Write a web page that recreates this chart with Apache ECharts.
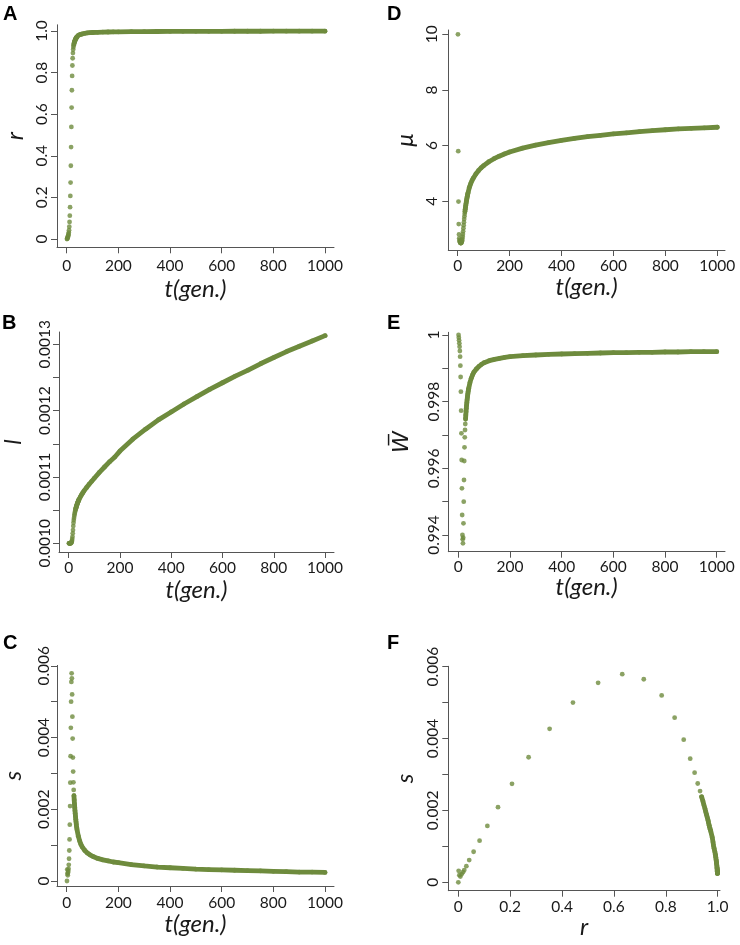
<!DOCTYPE html>
<html><head><meta charset="utf-8">
<script src="https://cdn.jsdelivr.net/npm/echarts@6/dist/echarts.min.js"></script>
<style>html,body{margin:0;padding:0;background:#fff}#c{width:740px;height:945px}</style>
</head><body><div id="c"></div>
<script>
// generations
const gen = [1,2,3,4,5,6,7,8,9,10,11,12,13,14,15,16,17,18,19,20,21,22,23,24,25,26,27,28,29,30,31,32,33,34,35,36,37,38,39,40,
  45,50,55,60,70,80,90,100,120,140,160,180,200,250,300,350,400,450,500,550,600,650,700,750,800,850,900,950,1000];
// r (panel A, x of F)
const r = [0,0.0013,0.004,0.008,0.013,0.018,0.023,0.031,0.042,0.059,
  0.082,0.112,0.153,0.207,0.271,0.352,0.442,0.539,0.632,0.715,
  0.784,0.834,0.869,0.894,0.911,0.923,0.932,0.938,0.943,0.947,
  0.951,0.954,0.957,0.960,0.963,0.965,0.967,0.969,0.971,0.973,
  0.979,0.982,0.984,0.986,0.989,0.991,0.992,0.9928,
  0.9938,0.9946,0.9952,0.9957,0.9961,
  0.9968,0.9973,0.9977,0.9980,0.9982,0.9984,0.9985,0.9986,0.9987,0.9988,0.9989,0.9990,0.9990,0.9991,0.9991,0.9992];
// l (panel B)
const l = [0.001,0.001,0.001,0.001,0.001,0.001,0.001,0.001,0.0010005,0.001001,
  0.0010015,0.0010025,0.001004,0.0010065,0.00101,0.001015,0.00102,0.001026,0.001031,0.001035,
  0.001038,0.001041,0.0010435,0.0010455,0.0010475,0.0010495,0.001051,0.0010525,0.001054,0.0010552,
  0.0010564,0.0010576,0.0010588,0.00106,0.001061,0.001062,0.001063,0.001064,0.001065,0.001066,
  0.0010695,0.001073,0.001076,0.001079,0.001084,0.001089,0.0010935,0.001098,
  0.001107,0.001115,0.001123,0.00113,0.001139,
  0.001157,0.001172,0.001186,0.001198,0.00121,0.001221,0.001232,0.001242,0.001252,0.001261,0.001271,0.00128,0.001289,0.001297,0.001305,0.001313];
// s (panel C, y of F)
const s = [0,0.00032,0.0002,0.00016,0.00023,0.00028,0.00034,0.00045,0.00062,0.00085,
  0.00116,0.00157,0.00209,0.00274,0.00348,0.00427,0.005,0.00555,0.00579,0.00565,
  0.0052,0.00458,0.00397,0.00344,0.00305,0.00275,0.00254,0.00238,0.00226,0.00215,
  0.00205,0.00196,0.00188,0.0018,0.00172,0.00165,0.00159,0.00153,0.00148,0.00143,
  0.00125,0.00112,0.00102,0.00095,0.00085,0.00078,0.00073,0.00069,
  0.00063,0.00059,0.00056,0.00053,0.00051,
  0.00046,0.00042,0.00039,0.00037,0.00035,0.00033,0.00032,0.00031,0.0003,0.00029,0.00028,0.00027,0.00026,0.00025,0.00025,0.00024];
// mu (panel D)
const mu = [10,5.8,3.99,3.18,2.81,2.67,2.6,2.56,2.53,2.51,
  2.5,2.5,2.5,2.51,2.53,2.56,2.6,2.66,2.73,2.82,
  2.92,3.03,3.14,3.25,3.36,3.46,3.55,3.63,3.71,3.78,
  3.85,3.91,3.97,4.03,4.08,4.13,4.18,4.23,4.27,4.31,
  4.5,4.63,4.74,4.83,4.98,5.1,5.2,5.28,
  5.42,5.53,5.62,5.7,5.77,
  5.91,6.02,6.11,6.19,6.26,6.32,6.37,6.42,6.46,6.5,6.54,6.57,6.6,6.62,6.64,6.66];
// mean fitness W (panel E)
const W = [1.0,0.99992,0.99984,0.99975,0.99965,0.99952,0.99935,0.99908,0.99874,0.9983,
  0.99773,0.99705,0.99625,0.9954,0.9946,0.994,0.99387,0.99375,0.99392,0.99435,
  0.995,0.99565,0.99622,0.99663,0.99693,0.99715,0.99733,0.99748,0.9976,0.9977,
  0.9978,0.99789,0.99797,0.99805,0.99812,0.99818,0.99824,0.9983,0.99835,0.9984,
  0.99857,0.9987,0.9988,0.99888,0.99898,0.99906,0.99912,0.99917,
  0.99923,0.99927,0.9993,0.99933,0.99935,
  0.99938,0.9994,0.99942,0.99943,0.99944,0.99945,0.99946,0.99947,0.99947,0.99948,0.99948,0.99949,0.99949,0.9995,0.9995,0.9995];

// ticks and labels
const tTicks = [0,200,400,600,800,1000];
const rTicks = [0,0.2,0.4,0.6,0.8,1.0];
const lTicks = [0.00100,0.00105,0.00110,0.00115,0.00120,0.00125,0.00130];
const lLabels = [0.0010,0.0011,0.0012,0.0013];
const sTicks = [0,0.001,0.002,0.003,0.004,0.005,0.006];
const sLabels = [0,0.002,0.004,0.006];
const muTicks = [4,6,8,10];
const wTicks = [0.994,0.995,0.996,0.997,0.998,0.999,1];
const wLabels = [0.994,0.996,0.998,1];

const GREEN = '#6E8B3D', AXC = '#555555', TXC = '#1a1a1a', FONT = 'Lato';
const TAIL = gen.indexOf(28);

const fmtR = v => v === 0 ? '0' : v.toFixed(1);
const fmtInt = v => String(Math.round(v));
const fmtL = v => v.toFixed(4);
const fmtS = v => v === 0 ? '0' : v.toFixed(3);
const fmtW = v => Math.abs(v - 1) < 1e-9 ? '1' : v.toFixed(3);

const panels = [
  {L:'A', lp:[3,4], g:{left:57, top:24.8, width:277, height:222.5}, x:[-37.6,1034.8], y:[-0.04,1.0298],
   xv:gen, yv:r, xt:tTicks, xl:tTicks, xf:fmtInt, yt:rTicks, yl:rTicks, yf:fmtR,
   xn:'t(gen.)', yn:'r', xng:30, yng:30, xlm:11, ylm:7},
  {L:'B', lp:[2,313], g:{left:57, top:332, width:277, height:220}, x:[-37.6,1034.8], y:[0.0009869,0.0013185],
   xv:gen, yv:l, xt:tTicks, xl:tTicks, xf:fmtInt, yt:lTicks, yl:lLabels, yf:fmtL,
   xn:'t(gen.)', yn:'l', xng:26, yng:34, xlm:8, ylm:6},
  {L:'C', lp:[3,633], g:{left:57, top:665.4, width:277, height:220.6}, x:[-37.6,1034.8], y:[-0.000139,0.00601],
   xv:gen, yv:s, xt:tTicks, xl:tTicks, xf:fmtInt, yt:sTicks, yl:sLabels, yf:fmtS,
   xn:'t(gen.)', yn:'s', xng:26, yng:32, xlm:9, ylm:5},
  {L:'D', lp:[387,4], g:{left:448.3, top:30, width:276.7, height:220}, x:[-36.2,1029.7], y:[2.249,10.155],
   xv:gen, yv:mu, xt:tTicks, xl:tTicks, xf:fmtInt, yt:muTicks, yl:muTicks, yf:fmtInt,
   xn:'t(gen.)', yn:'\u03bc', xng:25, yng:31, xlm:8, ylm:8},
  {L:'E', lp:[387,313], g:{left:448.3, top:332.3, width:276.7, height:219.4}, x:[-38.7,1032], y:[0.993499,1.000081],
   xv:gen, yv:W, xt:tTicks, xl:tTicks, xf:fmtInt, yt:wTicks, yl:wLabels, yf:fmtW,
   xn:'t(gen.)', yn:'W\u0305', xng:23, yng:35, xlm:7, ylm:6},
  {L:'F', lp:[387,633], g:{left:448.3, top:666.3, width:271.7, height:224.4}, x:[-0.0386,1.0089], y:[-0.000233,0.00601],
   xv:r, yv:s, xt:rTicks, xl:rTicks, xf:fmtR, yt:sTicks, yl:sLabels, yf:fmtS,
   xn:'r', yn:'s', xng:23, yng:31, xlm:8, ylm:7}
];

const option = {animation:false, backgroundColor:'#fff', title:[], grid:[], xAxis:[], yAxis:[], series:[]};
panels.forEach((p, i) => {
  option.title.push({text:p.L, left:p.lp[0], top:p.lp[1], padding:0,
    textStyle:{fontSize:20, fontWeight:'bold', fontFamily:'Liberation Sans', color:'#000'}});
  option.grid.push(Object.assign({containLabel:false}, p.g));
  const nameStyle = {fontFamily:FONT, fontStyle:'italic', fontSize:24, color:TXC};
  option.xAxis.push({type:'value', gridIndex:i, min:p.x[0], max:p.x[1],
    splitLine:{show:false},
    axisLine:{show:true, onZero:false, lineStyle:{color:AXC, width:1}},
    axisTick:{show:true, length:6, customValues:p.xt, lineStyle:{color:AXC}},
    axisLabel:{customValues:p.xl, formatter:p.xf, margin:p.xlm, fontFamily:FONT, fontSize:15.5, color:TXC},
    name:p.xn, nameLocation:'middle', nameGap:p.xng, nameTextStyle:nameStyle});
  const yNameStyle = Object.assign({}, nameStyle, p.L === 'E' ? {fontFamily:'DejaVu Sans', fontSize:22} : {});
  option.yAxis.push({type:'value', gridIndex:i, min:p.y[0], max:p.y[1],
    splitLine:{show:false},
    axisLine:{show:true, onZero:false, lineStyle:{color:AXC, width:1}},
    axisTick:{show:true, length:6, customValues:p.yt, lineStyle:{color:AXC}},
    axisLabel:{customValues:p.yl, formatter:p.yf, rotate:90, margin:p.ylm, fontFamily:FONT, fontSize:15.5, color:TXC},
    name:p.yn, nameLocation:'middle', nameRotate:90, nameGap:p.yng, nameTextStyle:yNameStyle});
  const pts = p.xv.map((v, k) => [v, p.yv[k]]);
  option.series.push({type:'scatter', xAxisIndex:i, yAxisIndex:i, data:pts, symbol:'circle', symbolSize:4.8,
    itemStyle:{color:GREEN}, silent:true});
  option.series.push({type:'line', xAxisIndex:i, yAxisIndex:i, data:pts.slice(TAIL), showSymbol:false, symbol:'none',
    lineStyle:{color:GREEN, width:4.8, cap:'round', join:'round'}, silent:true});
});

const chart = echarts.init(document.getElementById('c'), null, {renderer:'canvas'});
chart.setOption(option);
</script>
</body></html>
